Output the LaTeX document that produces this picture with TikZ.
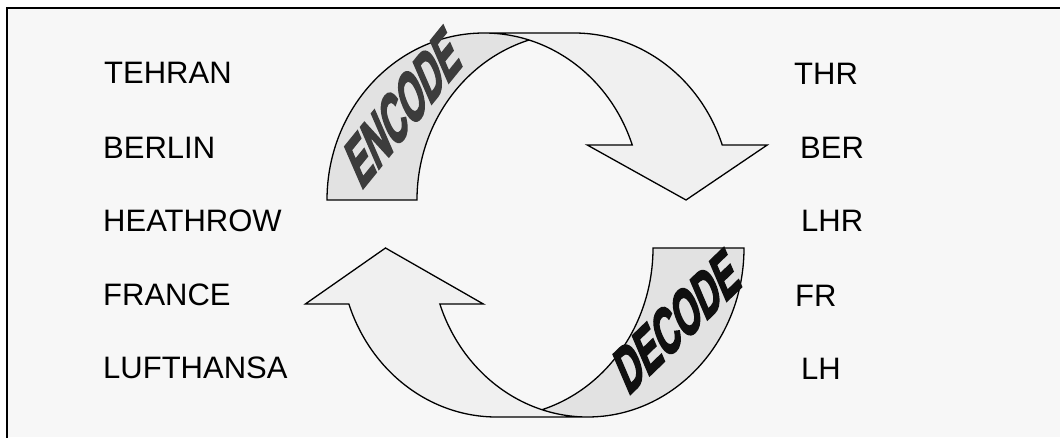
\documentclass[tikz,border=0pt]{standalone}
\usepackage{fontspec}
\setmainfont{Liberation Sans}
\newfontfamily\wafont{Liberation Sans}[FakeBold=4]
\definecolor{bgfill}{HTML}{F7F7F7}
\definecolor{bandlight}{HTML}{F0F0F0}
\definecolor{banddark}{HTML}{E2E2E2}
\definecolor{enctext}{HTML}{3C3C3C}
\definecolor{dectext}{HTML}{101010}
\newcommand{\ribbon}[1]{%
  \pgfmathsetmacro{\rbH}{#1}%
  \pgfmathsetmacro{\rbA}{asin(\rbAh/\rbH)}%
  \pgfmathsetmacro{\rbDx}{\rbW*cos(\rbA)}%
  \pgfmathsetmacro{\rbDh}{(\rbAw-\rbT)/2}%
  \pgfmathsetmacro{\rbXv}{\rbW+\rbDx}%
  \pgfmathsetmacro{\rbXvii}{\rbW+\rbT+\rbDx}%
  \pgfmathsetmacro{\rbXiv}{\rbXv-\rbDh}%
  \pgfmathsetmacro{\rbXviii}{\rbXvii+\rbDh}%
  \pgfmathsetmacro{\rbXvi}{2*\rbW+\rbT/2}%
  \pgfmathsetmacro{\rbI}{acos(\rbT/(2*\rbW))}%
  \pgfmathsetmacro{\rbIx}{\rbW+\rbT/2}%
  \pgfmathsetmacro{\rbIy}{\rbH*sin(\rbI)}%
  \pgfmathsetmacro{\rbJ}{180-\rbI}%
  \pgfmathsetmacro{\rbTop}{\rbW+\rbT}%
  \fill[lightfill] (\rbXvi,0) -- (\rbXiv,\rbAh) -- (\rbXv,\rbAh)
    arc[start angle=\rbA, end angle=90, x radius=\rbW, y radius=\rbH]
    -- (\rbTop,\rbH)
    arc[start angle=90, end angle=\rbA, x radius=\rbW, y radius=\rbH]
    -- (\rbXviii,\rbAh) -- cycle;
  \fill[darkfill] (\rbIx,\rbIy)
    arc[start angle=\rbJ, end angle=180, x radius=\rbW, y radius=\rbH]
    -- (0,0)
    arc[start angle=180, end angle=\rbI, x radius=\rbW, y radius=\rbH]
    -- cycle;
  \draw[outline] (\rbIx,\rbIy)
    arc[start angle=\rbJ, end angle=180, x radius=\rbW, y radius=\rbH]
    -- (0,0)
    arc[start angle=180, end angle=90, x radius=\rbW, y radius=\rbH]
    -- (\rbTop,\rbH)
    arc[start angle=90, end angle=\rbA, x radius=\rbW, y radius=\rbH]
    -- (\rbXviii,\rbAh) -- (\rbXvi,0) -- (\rbXiv,\rbAh) -- (\rbXv,\rbAh)
    arc[start angle=\rbA, end angle=90, x radius=\rbW, y radius=\rbH];
}
\begin{document}
\begin{tikzpicture}[x=1pt,y=1pt,
  lbl/.style={anchor=base west, inner sep=0pt, font=\fontsize{31}{31}\selectfont, text=black},
  lightfill/.style={fill=bandlight},
  darkfill/.style={fill=banddark},
  outline/.style={draw=black, line width=1.3pt, line join=miter},
  frame/.style={draw=black, line width=2pt},
  wordart/.style={inner sep=0pt, font=\wafont\bfseries\fontsize{58}{58}\selectfont}
]
\useasboundingbox (0,0) rectangle (1060,437);
\fill[white] (0,0) rectangle (1060,437);
\fill[bgfill] (7,0) rectangle (1060,429);
\draw[frame] (7,-2) -- (7,429) -- (1062,429);

% upper ribbon arrow (ENCODE)
\def\rbW{157}\def\rbT{90}\def\rbAh{55}\def\rbAw{180}
\begin{scope}[shift={(327,237)}]
  \ribbon{167}
\end{scope}
% lower ribbon arrow (DECODE)
\def\rbW{156.5}\def\rbT{91}\def\rbAh{56}\def\rbAw{178}
\begin{scope}[shift={(744,189)}, rotate=180]
  \ribbon{169}
\end{scope}

\node[wordart, text=enctext, rotate=51, xslant=0.52, xscale=0.65] (enc) at (403,330) {ENCODE};
\node[wordart, text=dectext, rotate=44, xslant=0.38, xscale=0.64] (dec) at (677,116) {DECODE};

% left column
\node[lbl] (tehran) at (104,353) {TEHRAN};
\node[lbl] (berlin) at (103,278) {BERLIN};
\node[lbl] (heathrow) at (103,205) {HEATHROW};
\node[lbl] (france) at (103,132) {FRANCE};
\node[lbl] (lufthansa) at (103,58.5) {LUFTHANSA};
% right column
\node[lbl] (thr) at (794,352) {THR};
\node[lbl] (ber) at (800,278) {BER};
\node[lbl] (lhr) at (801,205) {LHR};
\node[lbl] (fr) at (795,130.5) {FR};
\node[lbl] (lh) at (801,58) {LH};
\end{tikzpicture}
\end{document}
